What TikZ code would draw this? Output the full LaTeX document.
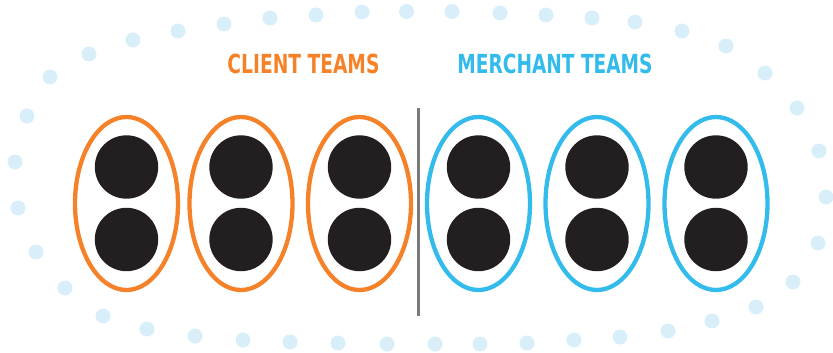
\documentclass[tikz,border=0pt]{standalone}
\usepackage{fontspec}
\setmainfont{Liberation Sans}
\newfontfamily\heavyfont{DejaVu Sans}
\definecolor{orng}{HTML}{F58229}
\definecolor{skyb}{HTML}{33BBEB}
\definecolor{pale}{HTML}{D8EFFA}
\definecolor{ink}{HTML}{231F20}
\definecolor{divg}{HTML}{7A7A7A}
\begin{document}
\begin{tikzpicture}[x=1pt,y=-1pt,
  dotb/.style={fill=pale},
  grp/.style={line width=4.3pt},
  member/.style={fill=ink},
  label/.style={inner sep=0pt,font=\heavyfont\bfseries}]
\useasboundingbox (0,0) rectangle (833,353);
% dotted outer ellipse
\foreach \x/\y in {27/116,50/77,89/54,133/40,178/31,224/24,270/18,316/15,362/12,406.5/11.5,452/11.5,500/13,546/15,592/18,635/22,682/31,726/46,765/73,797/108,819/151,826/197,818/243,793/282,756/307,712/321,668/331,620/337,574/340,527/343,480/344,435/344,387/344,338/343,290/342,243/340,195/336,147/329,103/316,65/288,36/252,18/208,15/162}
  \fill[dotb] (\x,\y) circle (7.5);
% labels
\node[label,text=orng] (client) at (303.5,63.8) {\resizebox{152pt}{19.5pt}{CLIENT TEAMS}};
\node[label,text=skyb] (merchant) at (555,63.8) {\resizebox{195pt}{19.5pt}{MERCHANT TEAMS}};
% divider
\draw[divg,line width=2.2pt] (418.5,108) coordinate (dtop) -- (418.5,316) coordinate (dbot);
% teams
\foreach \cx/\col in {126.5/orng,241/orng,359.5/orng,478.5/skyb,597/skyb,716/skyb}{
  \draw[grp,\col] (\cx,203.5) ellipse [x radius=51.5, y radius=86.5];
  \fill[member] (\cx,167) circle (31.7);
  \fill[member] (\cx,239.5) circle (31.7);
}
\end{tikzpicture}
\end{document}
